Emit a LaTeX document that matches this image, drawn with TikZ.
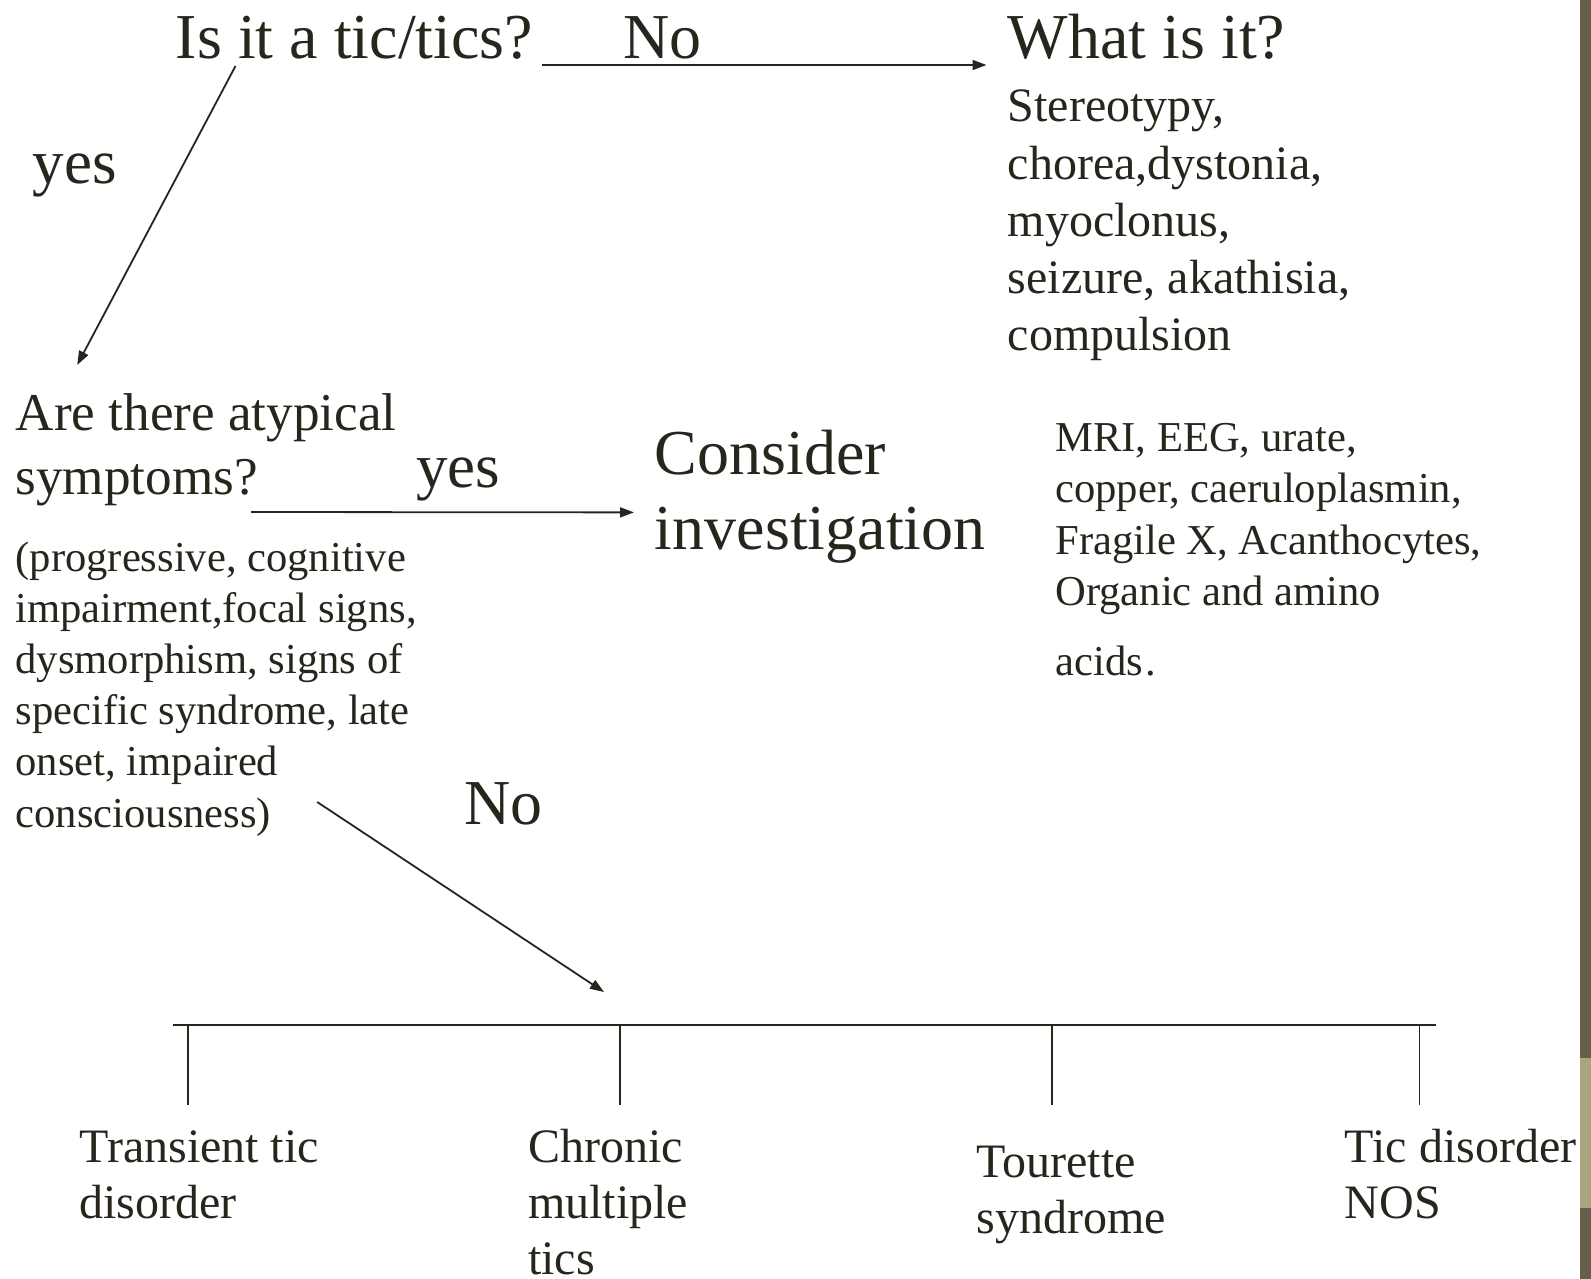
\documentclass[tikz,border=0pt]{standalone}
\usepackage{fontspec}
\setmainfont{Liberation Serif}
\usetikzlibrary{arrows.meta}
\definecolor{ink}{RGB}{40,37,28}
\definecolor{bardark}{RGB}{102,94,72}
\definecolor{barlight}{RGB}{168,164,126}
\newcommand{\mlines}[3]{{\fontsize{#1}{#2}\selectfont\begin{tabular}[t]{@{}l@{}}#3\end{tabular}}}
\newcommand{\stacklines}[3]{{\fontsize{#1}{#2}\selectfont\lineskiplimit=-100pt\vtop{#3}}}
\begin{document}
\begin{tikzpicture}[x=0.5pt,y=-0.5pt,
  txt/.style={inner sep=0pt, anchor=base west, text=ink},
  big/.style={txt, font=\fontsize{32}{38}\selectfont},
  arr/.style={draw=ink, line width=0.9pt, -{Triangle[length=7pt,width=5pt]}},
  branch/.style={draw=ink, line width=0.6pt}]
\useasboundingbox (0,0) rectangle (1591,1279);
\fill[white] (0,0) rectangle (1591,1279);
\fill[bardark] (1580,0) rectangle (1591,1279);
\fill[barlight] (1580,1058) rectangle (1591,1208);

% top row
\node[big] (q1) at (175.5,59) {Is it a tic/tics?};
\node[big] (no1) at (623,59) {No};
\node[big] (what) at (1007.5,59) {What is it?};
\node[txt] (list) at (1007.5,121.8) {\mlines{24}{28.65}{Stereotypy,\\chorea,dystonia,\\myoclonus,\\seizure, akathisia,\\compulsion}};
\draw[arr] ([shift={(8,6)}]q1.base east) -- ([shift={(-21,6)}]what.base west);

% yes branch
\node[txt, font=\fontsize{31.5}{38}\selectfont] (yes1) at (32.5,184) {yes};
\node[txt] (q2) at (15.2,430) {\mlines{26.6}{32}{Are there atypical\\symptoms?}};
\draw[arr] ([shift={(60,7)}]q1.base west) -- ([shift={(62,-65)}]q2.base west);

\node[txt, font=\fontsize{31.5}{38}\selectfont] (yes2) at (416,487) {yes};
\node[txt] (cons) at (654.5,474) {\mlines{32}{37.5}{Consider\\investigation}};
\draw[arr] ([shift={(236,82)}]q2.base west) -- ([shift={(-20.5,38.4)}]cons.base west);

\node[txt] (inv) at (1055,451.7) {\mlines{21.3}{25.6}{MRI, EEG, urate,\\copper, caeruloplasmin,\\Fragile X, Acanthocytes,\\Organic and amino\\[9.5pt]acids\kern1.5pt.}};

\node[txt] (atyp) at (15.2,571) {\mlines{21.3}{25.6}{(progressive, cognitive\\impairment,focal signs,\\dysmorphism, signs of\\specific syndrome, late\\onset, impaired\\consciousness)}};

% no branch
\node[big] (no2) at (463.7,824) {No};
\coordinate (barL) at (172.5,1025);
\coordinate (barR) at (1436,1025);
\coordinate (b1) at (188,1025);
\coordinate (b2) at (620,1025);
\coordinate (b3) at (1052,1025);
\coordinate (b4) at (1419.5,1025);
\draw[arr] ([shift={(302,231)}]atyp.base west) -- ([shift={(-16,-33)}]b2);
\draw[draw=ink, line width=1.3pt] (barL) -- (barR);

\node[txt] (c1) at (79,1162) {\mlines{24}{28.1}{Transient tic\\disorder}};
\node[txt] (c2) at (527.6,1162) {\stacklines{24}{28.1}{\hbox{Chronic}\hbox{multiple}\hbox{tics}}};
\node[txt] (c3) at (976,1177) {\mlines{24}{28.1}{Tourette\\syndrome}};
\node[txt] (c4) at (1344.5,1162) {\mlines{24}{28.1}{Tic disorder\\NOS}};
\draw[branch] (b1) -- ++(0,80);
\draw[branch] (b2) -- ++(0,80);
\draw[branch] (b3) -- ++(0,80);
\draw[branch] (b4) -- ++(0,80);
\end{tikzpicture}
\end{document}
